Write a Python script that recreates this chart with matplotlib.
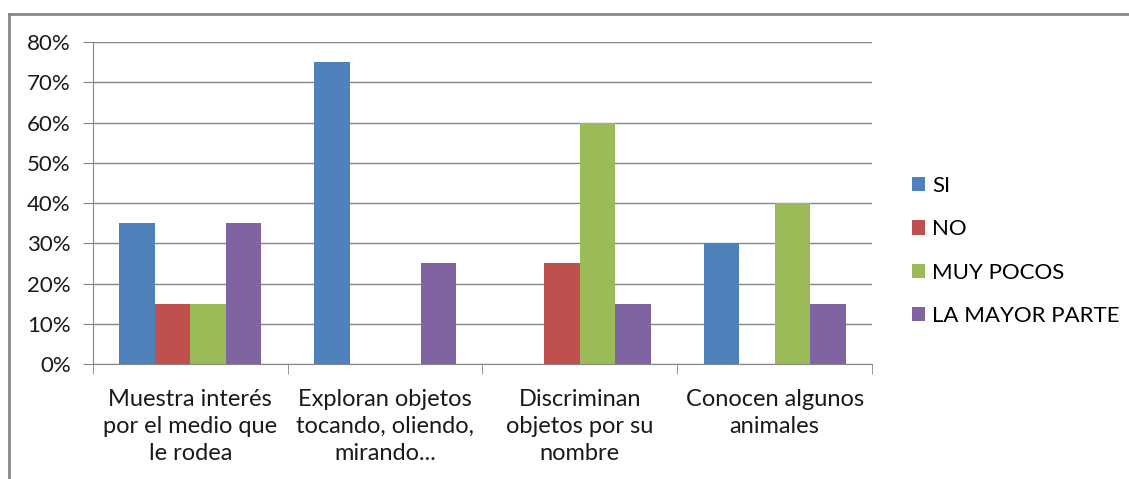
import matplotlib.pyplot as plt
from matplotlib.lines import Line2D
from matplotlib.ticker import PercentFormatter
import numpy as np

plt.rcParams['font.family'] = ['Lato', 'DejaVu Sans']

categories = ["Muestra interés\npor el medio que\nle rodea",
              "Exploran objetos\ntocando, oliendo,\nmirando...",
              "Discriminan\nobjetos por su\nnombre",
              "Conocen algunos\nanimales"]
series_names = ["SI", "NO", "MUY POCOS", "LA MAYOR PARTE"]
si = [35, 75, 0, 30]
no = [15, 0, 25, 0]
muy_pocos = [15, 0, 60, 40]
mayor_parte = [35, 25, 15, 15]
series = [si, no, muy_pocos, mayor_parte]
colors = ["#4F81BD", "#C0504D", "#9BBB59", "#8064A2"]

fig = plt.figure(figsize=(11.29, 4.79), dpi=100)
ax = fig.add_axes([93 / 1129, 1 - 364 / 479, (872 - 93) / 1129, (364 - 42) / 479])

x = np.arange(len(categories))
w = 0.73 / 4
for i, vals in enumerate(series):
    ax.bar(x - 0.73 / 2 + w * (i + 0.5), vals, width=w, color=colors[i],
           label=series_names[i], zorder=3)

ax.set_xlim(-0.5, len(categories) - 0.5)
ax.set_ylim(0, 80)
ax.set_yticks(range(0, 81, 10))
ax.yaxis.set_major_formatter(PercentFormatter(decimals=0))
ax.grid(True, axis='y', color='#868686', linewidth=1, zorder=0)

ax.set_xticks(x)
ax.set_xticklabels(categories, fontsize=17, color='#1a1a1a', linespacing=1.35)
ax.set_xticks(np.arange(-0.5, len(categories), 1), minor=True)
ax.tick_params(axis='x', which='major', length=0, pad=18)
ax.tick_params(axis='x', which='minor', length=7, color='#868686')
ax.tick_params(axis='y', length=7, color='#868686', labelsize=16, labelcolor='#1a1a1a', pad=9)

for s in ['top', 'right']:
    ax.spines[s].set_visible(False)
for s in ['left', 'bottom']:
    ax.spines[s].set_color('#868686')

fig.legend(loc='center left', bbox_to_anchor=(912 / 1129, 1 - 251 / 479), frameon=False,
           fontsize=16, handlelength=0.6, handleheight=0.6, handletextpad=0.3,
           labelspacing=1.05, borderpad=0, borderaxespad=0)

fig.add_artist(Line2D([9 / 1129, 1], [1 - 14 / 479, 1 - 14 / 479], color='#888888', linewidth=2))
fig.add_artist(Line2D([9 / 1129, 9 / 1129], [0, 1 - 14 / 479], color='#888888', linewidth=2))

fig.savefig('out.png', dpi=100)
